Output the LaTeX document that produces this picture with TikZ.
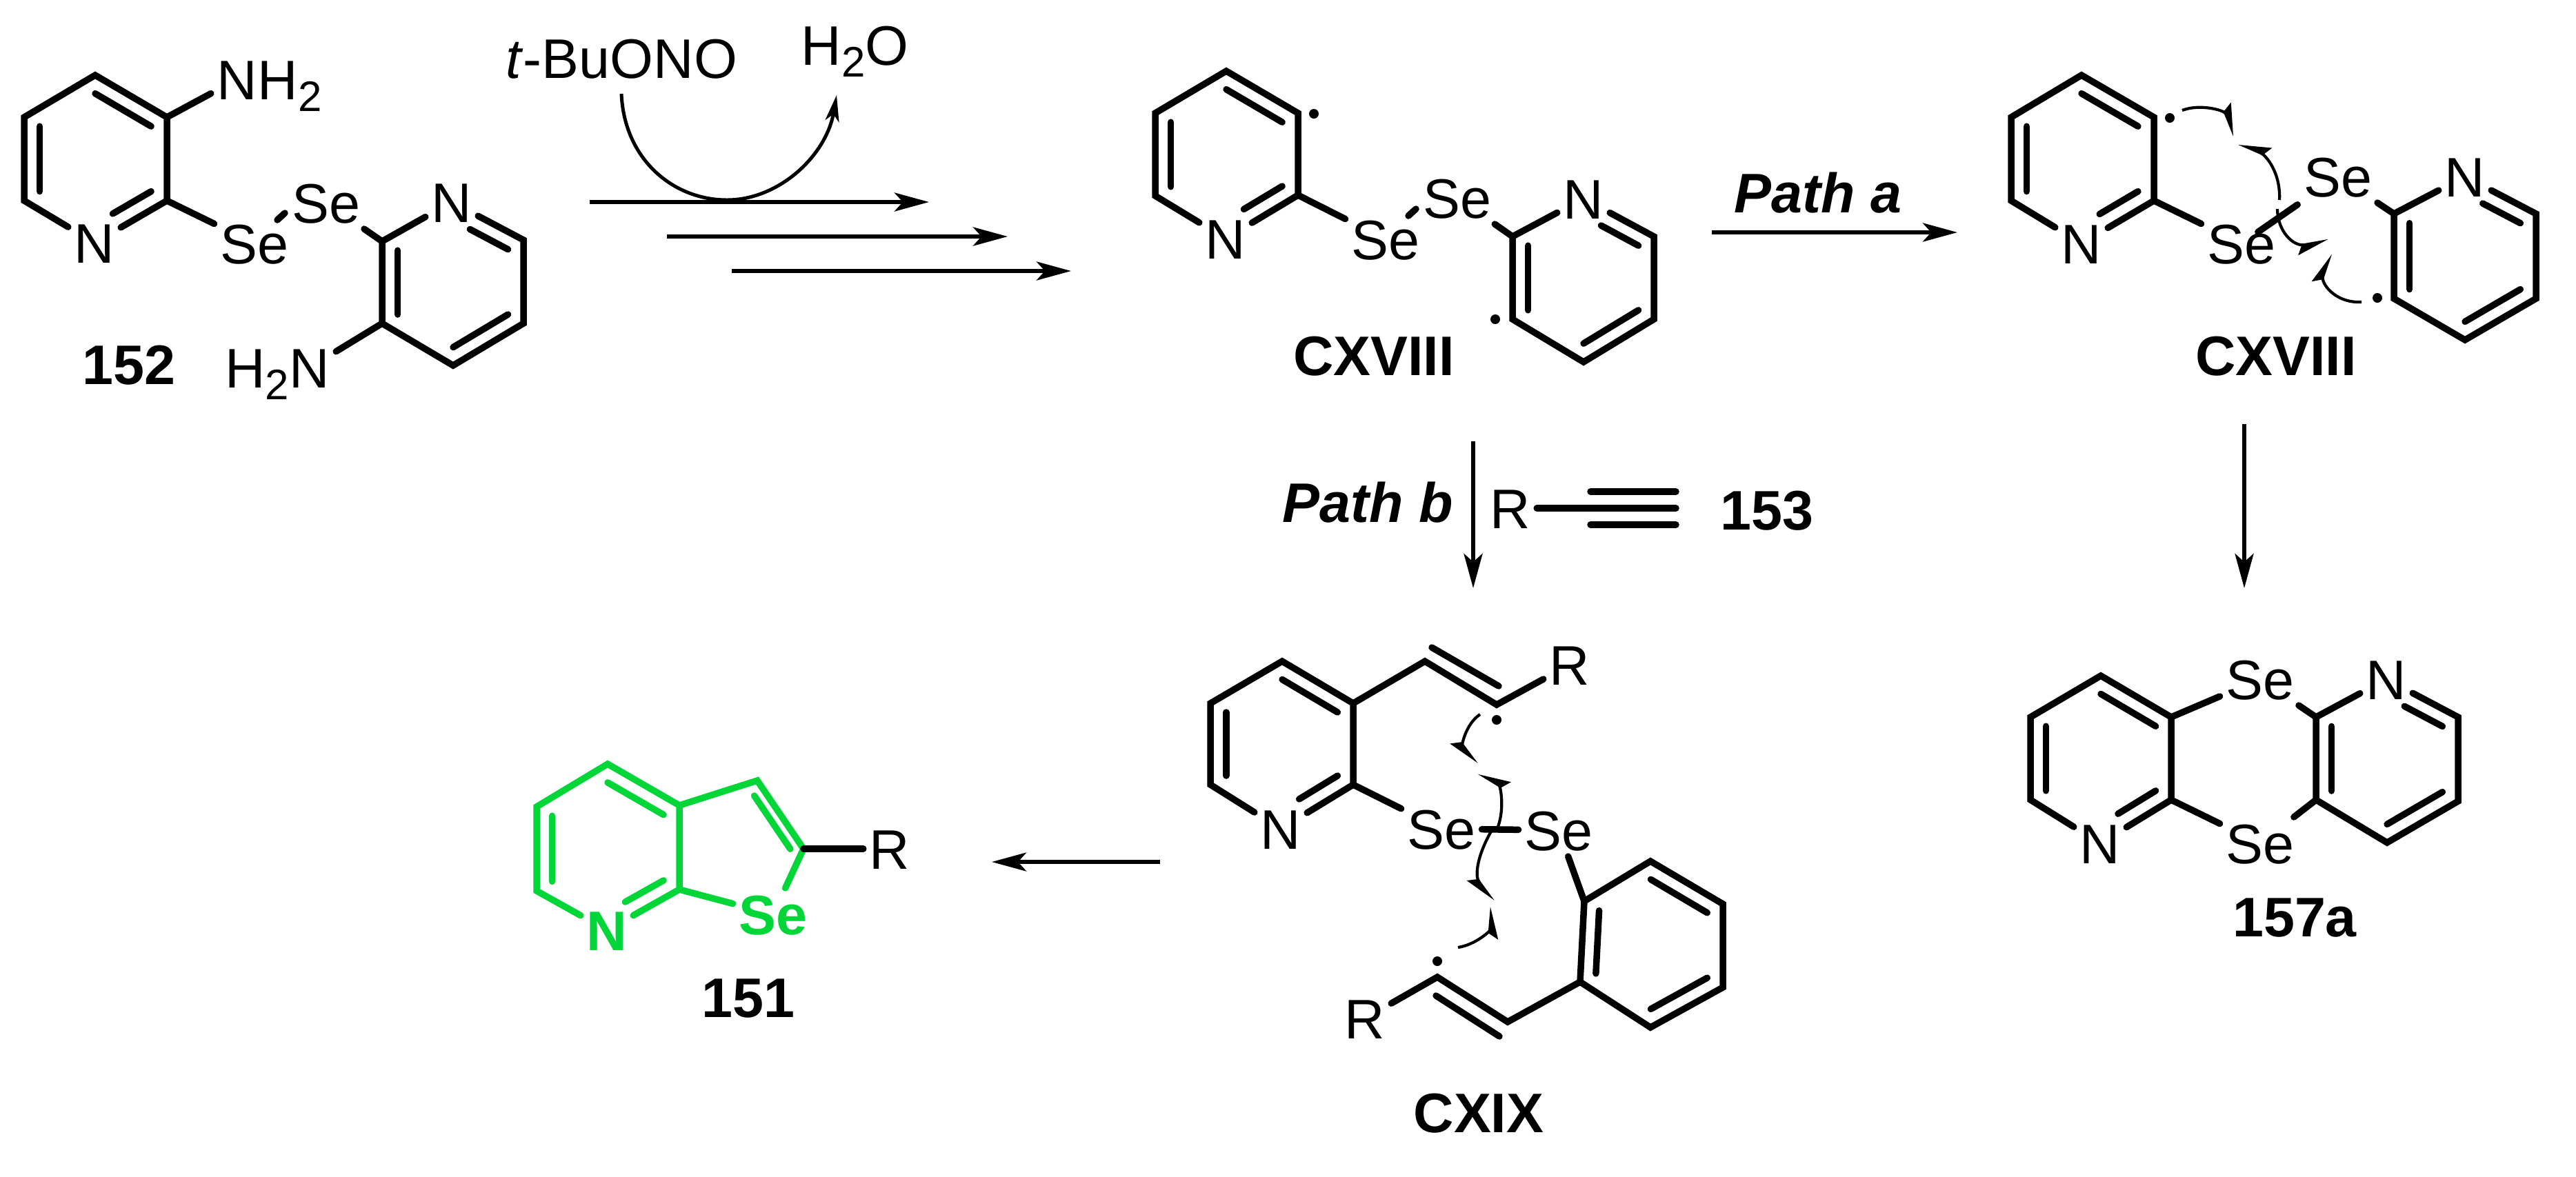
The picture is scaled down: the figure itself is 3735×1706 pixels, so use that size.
\documentclass[tikz,border=0pt]{standalone}
\usepackage{fontspec}
\setmainfont{Liberation Sans}
\usetikzlibrary{arrows.meta,calc}

\definecolor{selgreen}{RGB}{0,214,56}
\newcommand{\subtwo}{\raisebox{-4.9pt}{\fontsize{17.6}{18}\selectfont 2}}

\begin{document}
\begin{tikzpicture}
  [
  x=0.1mm, y=-0.1mm,
  >={Stealth[length=5mm,width=2.7mm,inset=1.2mm]},
  bond/.style={line width=0.95mm, line cap=round, line join=miter},
  atom/.style={inner sep=0pt, outer sep=0.9mm, text height=5.8mm, text depth=0pt,
    font=\fontsize{23}{24}\selectfont},
  lbl/.style={inner sep=0pt, anchor=base west, font=\fontsize{23}{24}\selectfont},
  cmpd/.style={inner sep=0pt, anchor=base, font=\fontsize{23}{24}\selectfont\bfseries},
  radical/.style={circle, fill=black, inner sep=0pt, minimum size=1.4mm},
  rxn/.style={line width=0.6mm, ->},
  curved/.style={line width=0.5mm, -{Stealth[length=3.8mm,width=2mm,inset=1mm]}},
  hookl/.style={line width=0.42mm, -{Stealth[harpoon,length=4mm,width=2.6mm,inset=0.7mm]}},
  hookr/.style={line width=0.42mm, -{Stealth[harpoon,swap,length=4mm,width=2.6mm,inset=0.7mm]}}
  ]
  \useasboundingbox (0,0) rectangle (3735,1706);

  % 152
  \coordinate (a1) at (138,109); \coordinate (a2) at (242,170);
  \coordinate (a3) at (242,291); \coordinate (a4) at (35,291);
  \coordinate (a5) at (35,170);  \coordinate (ca) at (138,230);
  \node[atom] (aN) at (137,352) {N};
  \node[atom] (aN2) at (344,115) {N};
  \node[lbl] (aH2) at (373,144) {H\subtwo};
  \node[atom] (aSe1) at (369,353) {Se};
  \node[atom] (aSe2) at (473,294) {Se};
  \coordinate (b1) at (554,350); \coordinate (b3) at (759,348);
  \coordinate (b4) at (759,469); \coordinate (b5) at (657,530);
  \coordinate (b6) at (554,469); \coordinate (cb) at (657,410);
  \node[atom] (bN) at (655,293) {N};
  \node[atom] (bN2) at (449,533) {N};
  \node[lbl, anchor=base east] (bH2) at (420,562) {H\subtwo};
  \node[cmpd] (l152) at (187,557) {152};
  \draw[bond] (aN) -- (a4) -- (a5) -- (a1) -- (a2) -- (a3) -- (aN);
  \draw[bond] (a2) -- (aN2);
  \draw[bond] (a3) -- (aSe1);
  \draw[bond] ($(aSe1)+(33,-34)$) -- ($(aSe1)+(44,-44)$);
  \draw[bond] (aSe2) -- (b1);
  \draw[bond] (bN) -- (b1) -- (b6) -- (b5) -- (b4) -- (b3) -- (bN);
  \draw[bond] (b6) -- (bN2);

  % CXVIII
  \coordinate (c1) at (1778,103); \coordinate (c2) at (1882,164);
  \coordinate (c3) at (1882,283); \coordinate (c4) at (1675,284);
  \coordinate (c5) at (1675,164); \coordinate (cc) at (1778,224);
  \node[atom] (cN) at (1777,346) {N};
  \node[atom] (cSe1) at (2009,347) {Se};
  \node[atom] (cSe2) at (2113,287) {Se};
  \coordinate (d1) at (2193,343); \coordinate (d3) at (2398,343);
  \coordinate (d4) at (2398,463); \coordinate (d5) at (2296,525);
  \coordinate (d6) at (2193,463); \coordinate (cd) at (2296,403);
  \node[atom] (dN) at (2296,288) {N};
  \node[radical] (r1) at (1905,165) {};
  \node[radical] (r2) at (2168,463) {};
  \node[cmpd] (l118) at (1992,544) {CXVIII};
  \draw[bond] (cN) -- (c4) -- (c5) -- (c1) -- (c2) -- (c3) -- (cN);
  \draw[bond] (c3) -- (cSe1);
  \draw[bond] ($(cSe1)+(33,-34)$) -- ($(cSe1)+(44,-44)$);
  \draw[bond] (cSe2) -- (d1);
  \draw[bond] (dN) -- (d1) -- (d6) -- (d5) -- (d4) -- (d3) -- (dN);

  % CXVIII, path a
  \coordinate (e1) at (3018,109); \coordinate (e2) at (3123,170);
  \coordinate (e3) at (3123,291); \coordinate (e4) at (2916,291);
  \coordinate (e5) at (2916,170); \coordinate (ce) at (3018,230);
  \node[atom] (eN) at (3018,353) {N};
  \node[atom] (eSe1) at (3250,353) {Se};
  \node[atom] (eSe2) at (3390,256) {Se};
  \coordinate (f1) at (3471,310); \coordinate (f3) at (3677,310);
  \coordinate (f4) at (3677,433); \coordinate (f5) at (3574,493);
  \coordinate (f6) at (3471,433); \coordinate (cf) at (3574,372);
  \node[atom] (fN) at (3574,256) {N};
  \node[radical] (r3) at (3146,171) {};
  \node[radical] (r4) at (3447,432) {};
  \node[cmpd] (l118a) at (3300,544) {CXVIII};
  \draw[bond] (eN) -- (e4) -- (e5) -- (e1) -- (e2) -- (e3) -- (eN);
  \draw[bond] (e3) -- (eSe1);
  \draw[bond] ($(eSe1)!.17!(eSe2)$) -- ($(eSe1)!.58!(eSe2)$);
  \draw[bond] (eSe2) -- (f1);
  \draw[bond] (fN) -- (f1) -- (f6) -- (f5) -- (f4) -- (f3) -- (fN);

  % 157a
  \coordinate (g1) at (3046,980);  \coordinate (g2) at (3148,1040);
  \coordinate (g3) at (3148,1160); \coordinate (g4) at (2944,1160);
  \coordinate (g5) at (2944,1040); \coordinate (cg) at (3046,1100);
  \node[atom] (gN) at (3045,1223) {N};
  \node[atom] (gSe1) at (3277,985) {Se};
  \node[atom] (gSe2) at (3277,1223) {Se};
  \coordinate (h1) at (3358,1040); \coordinate (h3) at (3564,1040);
  \coordinate (h4) at (3564,1162); \coordinate (h5) at (3461,1222);
  \coordinate (h6) at (3358,1160); \coordinate (ch) at (3461,1101);
  \node[atom] (hN) at (3460,985) {N};
  \node[cmpd] (l157) at (3327,1358) {157a};
  \draw[bond] (gN) -- (g4) -- (g5) -- (g1) -- (g2) -- (g3) -- (gN);
  \draw[bond] (g2) -- (gSe1);
  \draw[bond] (g3) -- (gSe2);
  \draw[bond] (gSe1) -- (h1);
  \draw[bond] (gSe2) -- (h6);
  \draw[bond] (hN) -- (h1) -- (h6) -- (h5) -- (h4) -- (h3) -- (hN);

  % CXIX
  \coordinate (i1) at (1859,959);  \coordinate (i2) at (1962,1020);
  \coordinate (i3) at (1962,1138); \coordinate (i4) at (1755,1138);
  \coordinate (i5) at (1755,1020); \coordinate (ci) at (1859,1079);
  \coordinate (i6) at (2066,959);  \coordinate (i7) at (2170,1022);
  \node[atom] (iN) at (1857,1202) {N};
  \node[atom] (iR) at (2276,964) {R};
  \node[atom] (iSe1) at (2090,1202) {Se};
  \node[atom] (iSe2) at (2260,1204) {Se};
  \coordinate (j1) at (2297,1307); \coordinate (j2) at (2393,1249);
  \coordinate (j3) at (2498,1311); \coordinate (j4) at (2498,1432);
  \coordinate (j5) at (2393,1490); \coordinate (j6) at (2291,1424);
  \coordinate (cj) at (2395,1369);
  \coordinate (k1) at (2186,1482); \coordinate (k2) at (2084,1417);
  \node[atom] (kR) at (1979,1477) {R};
  \node[radical] (r5) at (2170,1044) {};
  \node[radical] (r6) at (2084,1394) {};
  \node[cmpd] (l119) at (2144,1642) {CXIX};
  \draw[bond] (iN) -- (i4) -- (i5) -- (i1) -- (i2) -- (i3) -- (iN);
  \draw[bond] (i2) -- (i6) -- (i7) -- (iR);
  \draw[bond] ($(i6)+(10,-20)$) -- ($(i7)+(3,-27)$);
  \draw[bond] (i3) -- (iSe1);
  \draw[bond] (iSe1) -- (iSe2);
  \draw[bond] (iSe2) -- (j1);
  \draw[bond] (j1) -- (j2) -- (j3) -- (j4) -- (j5) -- (j6) -- cycle;
  \draw[bond] (j6) -- (k1) -- (k2) -- (kR);
  \draw[bond] ($(k1)+(-12,21)$) -- ($(k2)+(-2,27)$);

  % 151
  \begin{scope}[selgreen]
    \coordinate (m1) at (881,1108); \coordinate (m2) at (985,1168);
    \coordinate (m3) at (985,1290); \coordinate (m4) at (778,1292);
    \coordinate (m5) at (778,1170); \coordinate (cm) at (881,1230);
    \coordinate (m6) at (1098,1132); \coordinate (m7) at (1165,1231);
    \coordinate (cn) at (1078,1232);
    \node[atom, font=\fontsize{23}{24}\selectfont\bfseries] (mN) at (880,1349) {N};
    \node[atom, font=\fontsize{23}{24}\selectfont\bfseries] (mSe) at (1121,1326) {Se};
    \draw[bond] (mN) -- (m4) -- (m5) -- (m1) -- (m2) -- (m3) -- (mN);
    \draw[bond] (m2) -- (m6) -- (m7) -- (mSe) -- (m3);
  \end{scope}
  \node[atom] (mR) at (1290,1231) {R};
  \node[cmpd] (l151) at (1085,1475) {151};
  \draw[bond] (m7) -- (mR);

  % inner lines of the double bonds
  \foreach \a/\b/\c in {a1/a2/ca, a4/a5/ca, b1/b6/cb, b4/b5/cb,
      c1/c2/cc, c4/c5/cc, d1/d6/cd, d4/d5/cd,
      e1/e2/ce, e4/e5/ce, f1/f6/cf, f4/f5/cf,
      g1/g2/cg, g4/g5/cg, h1/h6/ch, h4/h5/ch,
      i1/i2/ci, i4/i5/ci, j1/j6/cj, j2/j3/cj, j4/j5/cj} {
    \draw[bond] ($(\a)!.22!(\c)$) -- ($(\b)!.22!(\c)$);
  }
  \foreach \a/\b/\c in {a3/aN/ca, b3/bN/cb, c3/cN/cc, d3/dN/cd,
      e3/eN/ce, f3/fN/cf, g3/gN/cg, h3/hN/ch, i3/iN/ci} {
    \draw[bond] ($(\a)!.22!(\c)$) -- ($($(\a)!.22!(\c)$)!.68!($(\b)!.22!(\c)$)$);
  }
  \foreach \a/\b/\c in {m1/m2/cm, m4/m5/cm, m6/m7/cn} {
    \draw[bond, selgreen] ($(\a)!.22!(\c)$) -- ($(\b)!.22!(\c)$);
  }
  \draw[bond, selgreen] ($(m3)!.22!(cm)$) -- ($($(m3)!.22!(cm)$)!.68!($(mN)!.22!(cm)$)$);

  % reagents
  \node[lbl] (tbu) at (733,113) {\textit{t}-BuONO};
  \node[lbl] (water) at (1161,94) {H\subtwo O};
  \node[lbl] (patha) at (2514,308) {\textbf{\textit{Path a}}};
  \node[lbl] (pathb) at (1859,757) {\textbf{\textit{Path b}}};
  \node[atom] (alkR) at (2190,737) {R};
  \node[cmpd, anchor=base west] (l153) at (2494,768) {153};
  \coordinate (t1) at (2306,737);
  \coordinate (t2) at (2430,737);
  \draw[bond] (alkR) -- (t2);
  \draw[bond] ($(t1)+(0,-24)$) -- ($(t2)+(0,-24)$);
  \draw[bond] ($(t1)+(0,24)$) -- ($(t2)+(0,24)$);

  % arrows
  \foreach \n/\xa/\ya/\xb/\yb in {1/855/293/1347/293, 2/967/343/1461/343,
      3/1061/393/1553/393, 4/2482/337/2838/337, 5/2136/640/2136/853,
      6/3254/615/3254/853, 7/1682/1250/1438/1250} {
    \coordinate (s\n) at (\xa,\ya);
    \coordinate (t\n) at (\xb,\yb);
    \draw[rxn] (s\n) -- (t\n);
  }
  \coordinate (ws) at (901,136);
  \coordinate (wm) at (1054,290);
  \coordinate (we) at (1213,138);
  \draw[curved] (ws) .. controls (905,230) and (975,290) .. (wm)
    .. controls (1130,290) and (1198,225) .. (we);

  % electron shifts
  \foreach \n/\st/\sx/\sy/\ax/\ay/\bx/\by/\ex/\ey in {
      1/hookl/3164/160/3190/150/3225/160/3240/197,
      2/hookr/3305/290/3307/250/3285/225/3246/208,
      3/hookr/3302/303/3302/335/3325/358/3376/349,
      4/hookl/3424/438/3385/440/3365/410/3379/368,
      5/hookr/2146/1036/2125/1050/2120/1080/2141/1108,
      6/hookr/2172/1199/2182/1170/2175/1140/2144/1121,
      7/hookr/2163/1204/2142/1240/2138/1270/2165/1307,
      8/hookr/2114/1374/2140/1370/2160/1350/2163/1315} {
    \coordinate (ps\n) at (\sx,\sy);
    \coordinate (pe\n) at (\ex,\ey);
    \draw[\st] (ps\n) .. controls (\ax,\ay) and (\bx,\by) .. (pe\n);
  }
\end{tikzpicture}
\end{document}
